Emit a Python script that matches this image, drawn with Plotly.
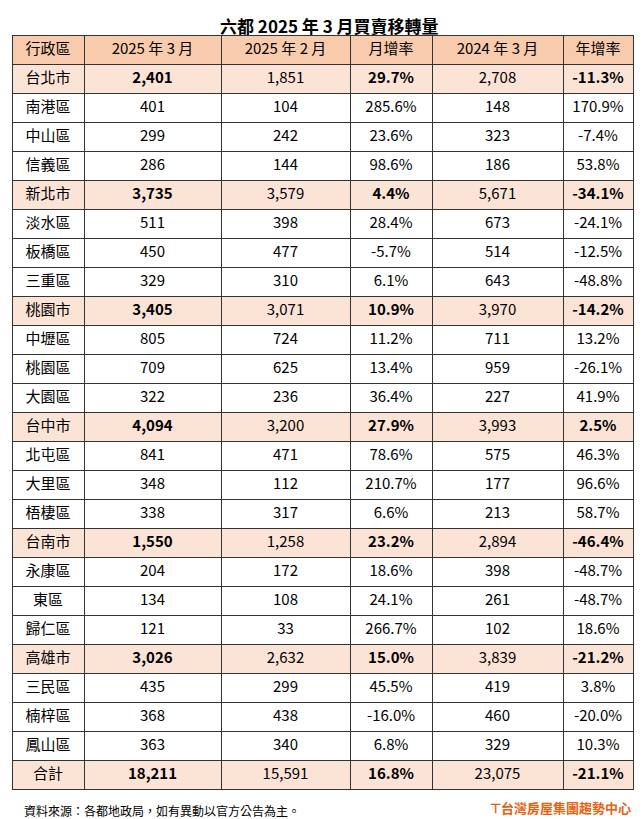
import plotly.graph_objects as go

headers = ["行政區", "2025 年 3 月", "2025 年 2 月", "月增率", "2024 年 3 月", "年增率"]
districts = ["台北市","南港區","中山區","信義區","新北市","淡水區","板橋區","三重區","桃園市","中壢區","桃園區","大園區",
             "台中市","北屯區","大里區","梧棲區","台南市","永康區","東區","歸仁區","高雄市","三民區","楠梓區","鳳山區","合計"]
mar2025 = ["2,401","401","299","286","3,735","511","450","329","3,405","805","709","322","4,094","841","348","338",
           "1,550","204","134","121","3,026","435","368","363","18,211"]
feb2025 = ["1,851","104","242","144","3,579","398","477","310","3,071","724","625","236","3,200","471","112","317",
           "1,258","172","108","33","2,632","299","438","340","15,591"]
mom = ["29.7%","285.6%","23.6%","98.6%","4.4%","28.4%","-5.7%","6.1%","10.9%","11.2%","13.4%","36.4%","27.9%","78.6%",
       "210.7%","6.6%","23.2%","18.6%","24.1%","266.7%","15.0%","45.5%","-16.0%","6.8%","16.8%"]
mar2024 = ["2,708","148","323","186","5,671","673","514","643","3,970","711","959","227","3,993","575","177","213",
           "2,894","398","261","102","3,839","419","460","329","23,075"]
yoy = ["-11.3%","170.9%","-7.4%","53.8%","-34.1%","-24.1%","-12.5%","-48.8%","-14.2%","13.2%","-26.1%","41.9%","2.5%",
       "46.3%","96.6%","58.7%","-46.4%","-48.7%","-48.7%","18.6%","-21.2%","3.8%","-20.0%","10.3%","-21.1%"]

highlight = {"台北市","新北市","桃園市","台中市","台南市","高雄市","合計"}
hl = [d in highlight for d in districts]
bold_col = [False, True, False, True, False, True]

cols = [districts, mar2025, feb2025, mom, mar2024, yoy]
fill = ["#FBE3D5" if h else "white" for h in hl]

normal_vals = [[("" if (b and h) else v) for v, h in zip(c, hl)] for c, b in zip(cols, bold_col)]
bold_vals = [[(v if (b and h) else "") for v, h in zip(c, hl)] for c, b in zip(cols, bold_col)]

widths = [72, 137, 129, 82, 131, 70]
dom = dict(x=[4/642, 625/642], y=[0, 1-27/819])
FONT = "Noto Sans CJK TC"

fig = go.Figure()
fig.add_trace(go.Table(
    columnwidth=widths,
    header=dict(values=headers, fill_color="#F8CBAD", line=dict(color="#333", width=1),
                font=dict(family=FONT, size=15, color="black"), height=29, align="center"),
    cells=dict(values=normal_vals, fill_color=[fill]*6, line=dict(color="#333", width=1),
               font=dict(family=FONT, size=15, color="black"), height=29, align="center"),
    domain=dom,
))
fig.add_trace(go.Table(
    columnwidth=widths,
    header=dict(values=[""]*6, fill_color="rgba(0,0,0,0)", line=dict(color="rgba(0,0,0,0)", width=1),
                font=dict(family=FONT, size=15, color="black"), height=29, align="center"),
    cells=dict(values=bold_vals, fill_color="rgba(0,0,0,0)", line=dict(color="rgba(0,0,0,0)", width=1),
               font=dict(family=FONT, size=15, color="black", weight="bold"), height=29, align="center"),
    domain=dom,
))
fig.update_layout(
    width=642, height=819, margin=dict(l=0, r=0, t=0, b=0), paper_bgcolor="white",
    annotations=[
        dict(text="<b>六都 2025 年 3 月買賣移轉量</b>", x=0.5, y=1-17/819, xref="paper", yref="paper", yanchor="middle",
             showarrow=False, font=dict(family=FONT, size=17, color="black")),
        dict(text="資料來源：各都地政局，如有異動以官方公告為主。", x=14/642, y=1-802/819, xref="paper", yref="paper",
             xanchor="left", yanchor="middle", showarrow=False, font=dict(family=FONT, size=12, color="black")),
        dict(text="<b>⊤台灣房屋集團趨勢中心</b>", x=625/642, y=1-799/819, xref="paper", yref="paper",
             xanchor="right", yanchor="middle", showarrow=False, font=dict(family=FONT, size=13, color="#E8600F")),
    ],
)
fig.write_html("out.html")
